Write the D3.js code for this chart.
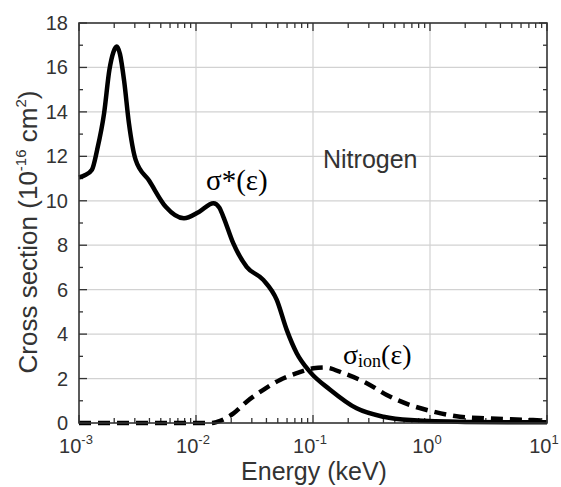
<!DOCTYPE html>
<html>
<head>
<meta charset="utf-8">
<script src="https://cdn.jsdelivr.net/npm/d3@7"></script>
<style>
  body { margin: 0; background: #fff; }
  svg { display: block; }
  text { font-family: "Liberation Sans", Arial, sans-serif; fill: #333; }
  .serif { font-family: "Liberation Serif", "Times New Roman", serif; fill: #000; }
</style>
</head>
<body>
<div class="chart"></div>
<script>
const width = 561
const height = 487
const margin = {top: 23, right: 14, bottom: 64, left: 79}

// sigma*(eps) - solid curve (energy in keV, cross section in 1e-16 cm^2)
const excEnergy = [0.001, 0.00112, 0.00129, 0.00143, 0.00164, 0.00182, 0.00197, 0.0021, 0.00224, 0.00243,
  0.00267, 0.00305, 0.00398, 0.00551, 0.00789, 0.0106, 0.0141, 0.0158, 0.0171, 0.0208, 0.0271,
  0.0376, 0.049, 0.0596, 0.0726, 0.0942, 0.14, 0.236, 0.4, 0.68, 2.0, 10]
const excSigma = [11.05, 11.15, 11.4, 12.3, 13.95, 15.9, 16.7, 16.94, 16.6, 15.4,
  13.5, 11.84, 10.9, 9.73, 9.21, 9.5, 9.89, 9.7, 9.29, 8.09, 7.03,
  6.44, 5.54, 4.19, 3.14, 2.3, 1.5, 0.66, 0.28, 0.13, 0.05, 0.03]

// sigma_ion(eps) - dashed curve
const ionEnergy = [0.001, 0.0135, 0.0151, 0.0209, 0.0271, 0.0376, 0.0522, 0.0726, 0.1007, 0.126,
  0.182, 0.288, 0.427, 0.676, 1.07, 1.8, 3.05, 7.6, 10]
const ionSigma = [0, 0, 0.05, 0.43, 0.96, 1.49, 1.94, 2.24, 2.46, 2.5,
  2.24, 1.79, 1.26, 0.81, 0.51, 0.28, 0.21, 0.13, 0.1]

const xDecades = [-3, -2, -1, 0, 1]
const yTicks = [0, 2, 4, 6, 8, 10, 12, 14, 16, 18]

const svg = d3.select('.chart').append('svg')
  .attr('width', width)
  .attr('height', height)

const x = d3.scaleLog()
  .domain([1e-3, 10])
  .range([margin.left, width - margin.right])

const y = d3.scaleLinear()
  .domain([0, 18])
  .range([height - margin.bottom, margin.top])

const x0 = x.range()[0], x1 = x.range()[1]
const y0 = y.range()[0], y1 = y.range()[1]

// grid
svg.append('g')
  .selectAll('line')
  .data(yTicks.slice(1, -1))
  .join('line')
  .attr('x1', x0).attr('x2', x1)
  .attr('y1', d => y(d)).attr('y2', d => y(d))
  .attr('stroke', '#d2d2d2').attr('stroke-width', 1.2)

svg.append('g')
  .selectAll('line')
  .data(xDecades.slice(1, -1))
  .join('line')
  .attr('x1', d => x(Math.pow(10, d))).attr('x2', d => x(Math.pow(10, d)))
  .attr('y1', y0).attr('y2', y1)
  .attr('stroke', '#d2d2d2').attr('stroke-width', 1.2)

// ticks (inside, on all four sides)
const minorX = []
for (let d = -3; d < 1; d++) {
  for (let m = 2; m <= 9; m++) minorX.push(m * Math.pow(10, d))
}
const minorY = d3.range(1, 18, 2)

const tickG = svg.append('g').attr('stroke', '#333').attr('stroke-width', 1.3)

const xt = [
  ...minorX.map(v => ({v: v, len: 5})),
  ...xDecades.map(d => ({v: Math.pow(10, d), len: 8}))
]
tickG.selectAll('.xb').data(xt).join('line')
  .attr('x1', d => x(d.v)).attr('x2', d => x(d.v))
  .attr('y1', y0).attr('y2', d => y0 - d.len)
tickG.selectAll('.xt').data(xt).join('line')
  .attr('x1', d => x(d.v)).attr('x2', d => x(d.v))
  .attr('y1', y1).attr('y2', d => y1 + d.len)

const yt = [
  ...minorY.map(v => ({v: v, len: 4})),
  ...yTicks.map(v => ({v: v, len: 8}))
]
tickG.selectAll('.yl').data(yt).join('line')
  .attr('x1', x0).attr('x2', d => x0 + d.len)
  .attr('y1', d => y(d.v)).attr('y2', d => y(d.v))
tickG.selectAll('.yr').data(yt).join('line')
  .attr('x1', x1).attr('x2', d => x1 - d.len)
  .attr('y1', d => y(d.v)).attr('y2', d => y(d.v))

// curves
const line = d3.line()
  .x(d => x(d[0]))
  .y(d => y(d[1]))
  .curve(d3.curveMonotoneX)

svg.append('path')
  .datum(d3.zip(ionEnergy, ionSigma))
  .attr('d', line)
  .attr('fill', 'none')
  .attr('stroke', '#000')
  .attr('stroke-width', 4.5)
  .attr('stroke-dasharray', '12,7')

svg.append('path')
  .datum(d3.zip(excEnergy, excSigma))
  .attr('d', line)
  .attr('fill', 'none')
  .attr('stroke', '#000')
  .attr('stroke-width', 4.5)
  .attr('stroke-linejoin', 'round')

// frame
svg.append('rect')
  .attr('x', x0).attr('y', y1)
  .attr('width', x1 - x0).attr('height', y0 - y1)
  .attr('fill', 'none')
  .attr('stroke', '#333')
  .attr('stroke-width', 1.6)

// tick labels
svg.append('g')
  .selectAll('text')
  .data(yTicks)
  .join('text')
  .attr('x', x0 - 11)
  .attr('y', d => y(d) + 7)
  .attr('text-anchor', 'end')
  .style('font-size', '20px')
  .text(d => d)

const xl = svg.append('g')
  .selectAll('text')
  .data(xDecades)
  .join('text')
  .attr('x', d => x(Math.pow(10, d)) - 3)
  .attr('y', 453)
  .attr('text-anchor', 'middle')
  .style('font-size', '20px')
xl.append('tspan').text('10')
xl.append('tspan')
  .attr('dy', -9)
  .style('font-size', '13px')
  .text(d => d < 0 ? '-' + (-d) : d)

// axis titles
svg.append('text')
  .attr('x', (x0 + x1) / 2 + 1)
  .attr('y', 480)
  .attr('text-anchor', 'middle')
  .style('font-size', '25px')
  .text('Energy (keV)')

const yl = svg.append('text')
  .attr('transform', 'translate(37,232) rotate(-90)')
  .attr('text-anchor', 'middle')
  .style('font-size', '26px')
yl.append('tspan').text('Cross section (10')
yl.append('tspan').attr('dy', -11).style('font-size', '15px').text('-16')
yl.append('tspan').attr('dy', 11).text(' cm')
yl.append('tspan').attr('dy', -11).style('font-size', '15px').text('2')
yl.append('tspan').attr('dy', 11).text(')')

// annotations
svg.append('text')
  .attr('x', 323)
  .attr('y', 168)
  .style('font-size', '25px')
  .text('Nitrogen')

svg.append('text')
  .attr('class', 'serif')
  .attr('x', 206)
  .attr('y', 190)
  .style('font-size', '29px')
  .text('σ*(ε)')

const ion = svg.append('text')
  .attr('class', 'serif')
  .attr('x', 343)
  .attr('y', 364)
  .style('font-size', '28px')
ion.append('tspan').text('σ')
ion.append('tspan').attr('dy', 3).style('font-size', '18px').text('ion')
ion.append('tspan').attr('dy', -3).text('(ε)')
</script>
</body>
</html>
